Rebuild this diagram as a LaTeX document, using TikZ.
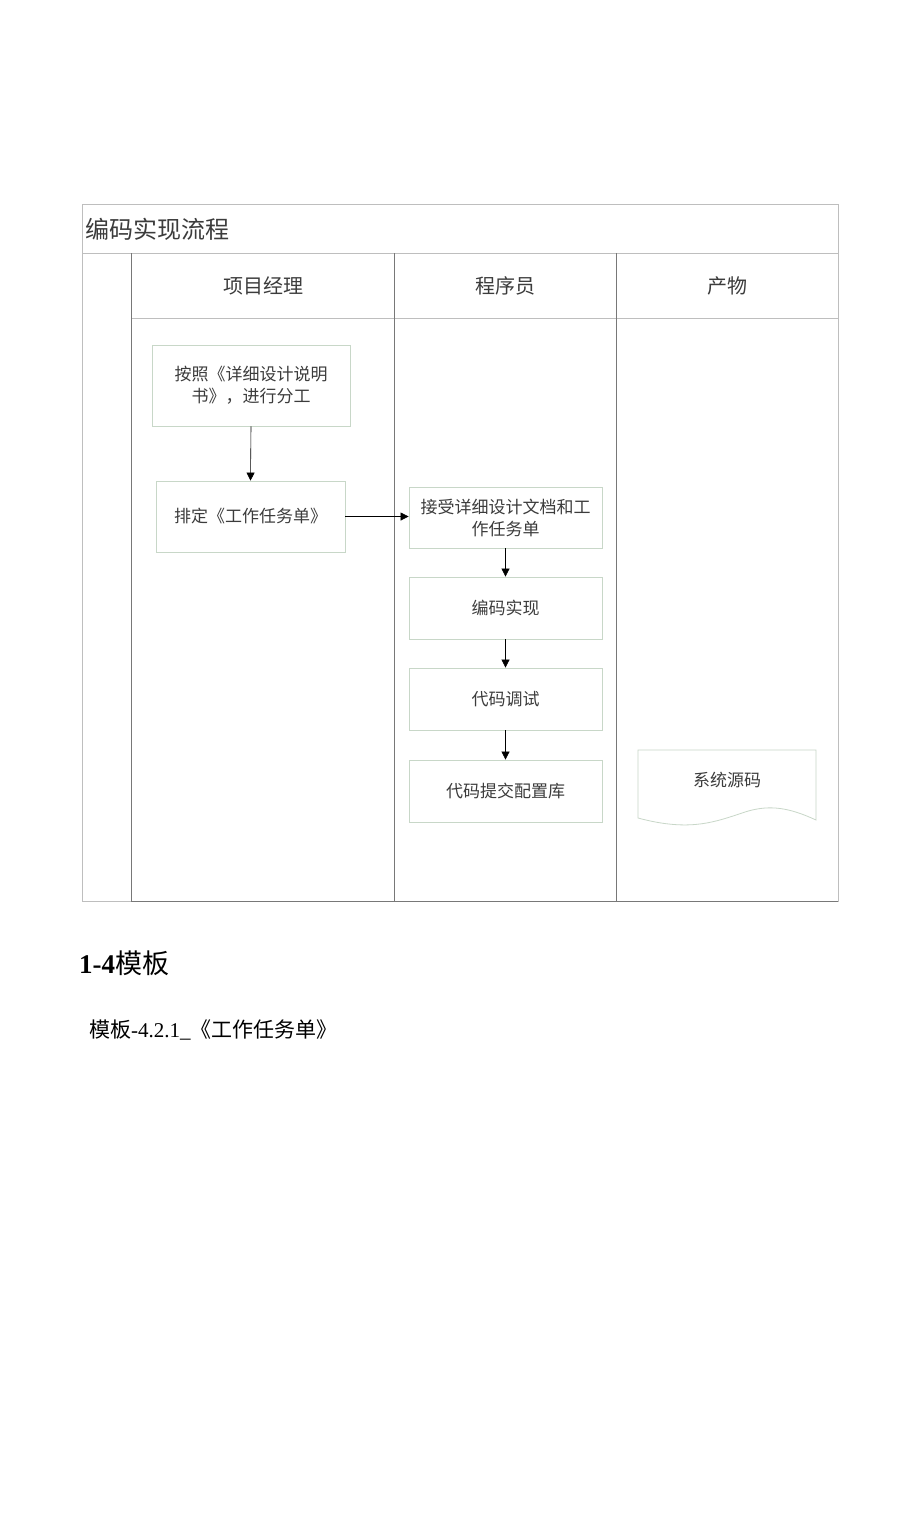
\documentclass[tikz,border=0pt]{standalone}
\usepackage{fontspec}
\setmainfont{Liberation Serif}
\newfontfamily\cjk{Noto Sans CJK SC}
\usetikzlibrary{arrows.meta}
\definecolor{frameline}{RGB}{190,190,190}
\definecolor{laneline}{RGB}{120,120,120}
\definecolor{boxline}{RGB}{200,215,200}
\definecolor{txt}{RGB}{60,60,60}
\begin{document}
\begin{tikzpicture}[x=1pt,y=-1pt,
  stepbox/.style={draw=boxline,line width=0.8pt,fill=white,text=txt,font=\cjk\fontsize{17}{22}\selectfont,align=center,inner sep=0pt},
  flow/.style={-{Triangle[length=8pt,width=8pt]},line width=0.6pt,black},
  lbl/.style={text=txt,inner sep=0pt}]
\useasboundingbox (0,0) rectangle (920,1516);
\fill[white] (0,0) rectangle (920,1516);
% frame
\draw[frameline,line width=1pt] (82,204) rectangle (838,901);
\draw[frameline,line width=1pt] (82,253) -- (838,253);
\draw[frameline,line width=1pt] (131,318) -- (838,318);
\draw[laneline,line width=1pt] (131,253) -- (131,901);
\draw[laneline,line width=1pt] (394,253) -- (394,901);
\draw[laneline,line width=1pt] (616,253) -- (616,901);
\draw[laneline,line width=1pt] (131,901) -- (838,901);
% title and headers
\node[lbl,anchor=west,font=\cjk\fontsize{24}{26}\selectfont] (title) at (85,229) {编码实现流程};
\node[lbl,font=\cjk\fontsize{20}{22}\selectfont] (h1) at (263,286) {项目经理};
\node[lbl,font=\cjk\fontsize{20}{22}\selectfont] (h2) at (505,286) {程序员};
\node[lbl,font=\cjk\fontsize{20}{22}\selectfont] (h3) at (727,286) {产物};
% boxes
\node[stepbox,minimum width=198pt,minimum height=81pt] (b1) at (251,385.5) {按照《详细设计说明\\书》，进行分工};
\node[stepbox,minimum width=189pt,minimum height=71pt] (b2) at (250.5,516.5) {排定《工作任务单》};
\node[stepbox,minimum width=193pt,minimum height=61pt] (b3) at (505.5,517.5) {接受详细设计文档和工\\作任务单};
\node[stepbox,minimum width=193pt,minimum height=62pt] (b4) at (505.5,608) {编码实现};
\node[stepbox,minimum width=193pt,minimum height=62pt] (b5) at (505.5,699) {代码调试};
\node[stepbox,minimum width=193pt,minimum height=62pt] (b6) at (505.5,791) {代码提交配置库};
% document shape
\draw[boxline,line width=0.8pt,fill=white] (638,750) -- (816,750) -- (816,820)
  .. controls (790,808) and (770,804) .. (745,812)
  .. controls (715,822) and (690,832) .. (638,818) -- cycle;
\node[lbl,font=\cjk\fontsize{17}{20}\selectfont] (doc) at (727,780) {系统源码};
% connectors
\draw[flow] (b1.south) -- (b2.north);
\draw[flow] (b2.east) -- (b2.east -| b3.west);
\draw[flow] (b3.south) -- (b4.north);
\draw[flow] (b4.south) -- (b5.north);
\draw[flow] (b5.south) -- (b6.north);
% text below
\node[anchor=west,inner sep=0pt,text=black] (sec) at (79,963) {\fontsize{27}{30}\selectfont\textbf{1-4}{\cjk 模板}};
\node[anchor=west,inner sep=0pt,text=black] (tmpl) at (89,1030) {\fontsize{21}{24}\selectfont{\cjk 模板}-4.2.1\_{\cjk《工作任务单》}};
\end{tikzpicture}
\end{document}
